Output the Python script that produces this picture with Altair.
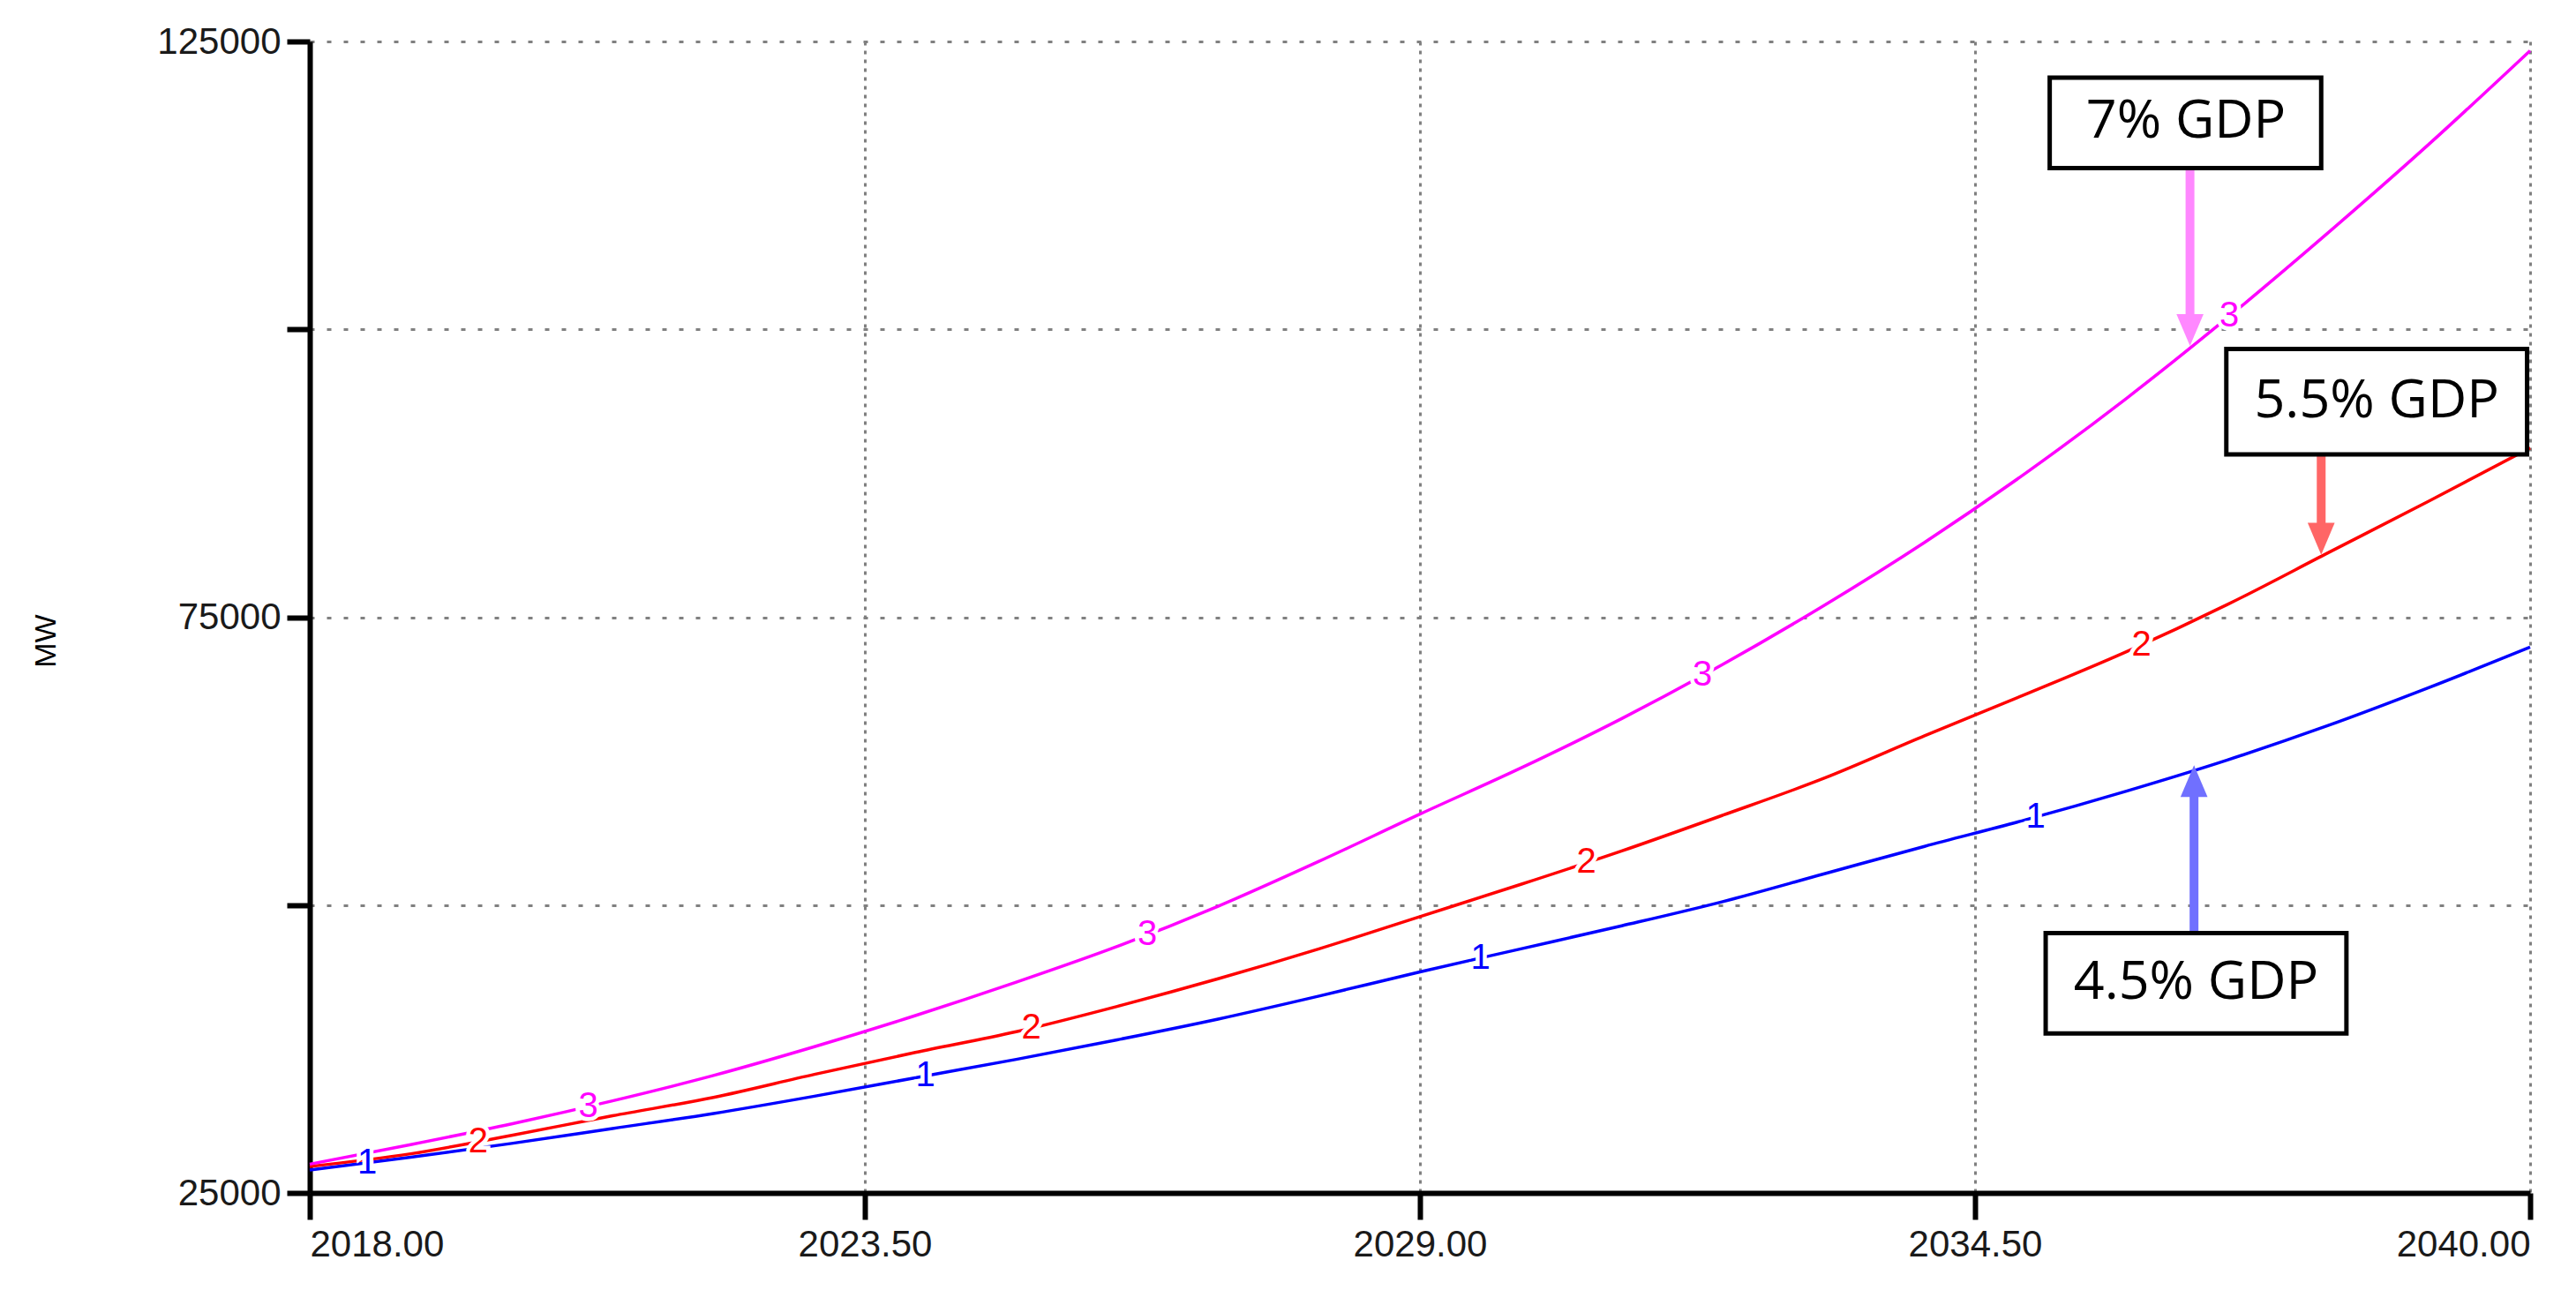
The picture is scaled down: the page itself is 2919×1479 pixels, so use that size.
import altair as alt
import pandas as pd

# ---- data ----
years = list(range(2018, 2041))
s1_45 = [27000, 28100, 29300, 30600, 31900, 33400, 35000, 36600, 38300, 40100, 42100, 44200,
         46200, 48200, 50300, 52700, 55100, 57400, 59900, 62600, 65600, 68900, 72400]
s2_55 = [27300, 28400, 30000, 31700, 33300, 35300, 37200, 39000, 41200, 43600, 46200, 49000,
         51800, 54700, 57800, 61000, 64700, 68300, 72000, 76100, 80600, 85100, 89700]
s3_70 = [27500, 29200, 31000, 33000, 35200, 37700, 40400, 43300, 46400, 49900, 53800, 57900,
         61900, 66200, 70900, 76000, 81500, 87500, 94000, 101000, 108400, 116100, 124200]

series_names = ["1", "2", "3"]
line_colors = ["#0000ff", "#ff0000", "#ff00ff"]
digit_colors = ["#6a6aff", "#ff5a40", "#ff66ff"]

# digit markers placed on the curves
digit_series = ["1", "1", "1", "1", "2", "2", "2", "2", "3", "3", "3", "3"]
digit_years = [2018.57, 2024.1, 2029.6, 2035.1, 2019.67, 2025.15, 2030.65, 2036.15,
               2020.76, 2026.3, 2031.8, 2037.02]
digit_values = [27600, 35200, 45400, 57650, 29450, 39300, 53700, 72600,
                32500, 47450, 69950, 101200]

# annotation boxes
box_text = ["7% GDP", "5.5% GDP", "4.5% GDP"]
box_x1 = [2035.24, 2036.99, 2035.20]
box_x2 = [2037.93, 2039.97, 2038.18]
box_y1 = [121860, 98290, 47570]
box_y2 = [114000, 89140, 38860]
box_tx = [2036.59, 2038.48, 2036.69]
box_ty = [118000, 93700, 43200]

# arrows
arrow_x = [2036.63, 2037.93, 2036.67]
arrow_from = [114000, 89140, 47570]
arrow_tip = [98570, 80430, 62140]
arrow_color = ["#ff88ff", "#ff6666", "#7070ff"]
arrow_dir = ["down", "down", "up"]

x_ticks = [2018, 2023.5, 2029, 2034.5, 2040]
y_ticks = [25000, 50000, 75000, 100000, 125000]

# ---- tables ----
rows = []
for name, vals in zip(series_names, [s1_45, s2_55, s3_70]):
    for yr, v in zip(years, vals):
        rows.append({"series": name, "year": yr, "value": v})
lines_df = pd.DataFrame(rows)

digits_df = pd.DataFrame({"series": digit_series, "year": digit_years, "value": digit_values})
boxes_df = pd.DataFrame({"text": box_text, "x1": box_x1, "x2": box_x2, "y1": box_y1,
                         "y2": box_y2, "tx": box_tx, "ty": box_ty})
arrows_df = pd.DataFrame({"x": arrow_x, "y0": arrow_from, "tip": arrow_tip,
                          "color": arrow_color, "dir": arrow_dir})

xscale = alt.Scale(domain=[2018, 2040], nice=False, zero=False)
yscale = alt.Scale(domain=[25000, 125000], nice=False, zero=False)

x_axis = alt.Axis(values=x_ticks, format=".2f", labelFlush=True, title=None,
                  tickSize=30, tickWidth=6, tickColor="black", domainWidth=6,
                  domainColor="black", labelFont="Liberation Sans", labelFontSize=42,
                  labelColor="#1a1a1a", labelPadding=8, grid=True, gridDash=[4, 6],
                  gridColor="#808080", gridWidth=3)
y_axis = alt.Axis(values=y_ticks, format="d", title="MW",
                  labelExpr="datum.value % 50000 == 25000 ? datum.label : ''",
                  tickSize=26, tickWidth=6, tickColor="black", domainWidth=6,
                  domainColor="black", labelFont="Liberation Sans", labelFontSize=42,
                  labelColor="#1a1a1a", labelPadding=7, grid=True, gridDash=[5, 14],
                  gridColor="#808080", gridWidth=3, titleFont="Liberation Sans",
                  titleFontSize=34, titleFontWeight="normal", titleColor="black",
                  titleAngle=270, titleX=-299, titleY=679, titleAlign="center",
                  titleBaseline="middle")

color_scale = alt.Scale(domain=series_names, range=line_colors)
digit_scale = alt.Scale(domain=series_names, range=digit_colors)

lines = alt.Chart(lines_df).mark_line(strokeWidth=3.5, interpolate="monotone").encode(
    x=alt.X("year:Q", scale=xscale, axis=x_axis),
    y=alt.Y("value:Q", scale=yscale, axis=y_axis),
    color=alt.Color("series:N", scale=color_scale, legend=None),
)

halo = alt.Chart(digits_df).mark_text(font="Liberation Sans", fontSize=40, stroke="white",
                                      strokeWidth=9, fill="white", baseline="middle").encode(
    x=alt.X("year:Q", scale=xscale), y=alt.Y("value:Q", scale=yscale), text="series:N")
digits = alt.Chart(digits_df).mark_text(font="Liberation Sans", fontSize=40,
                                        baseline="middle").encode(
    x=alt.X("year:Q", scale=xscale), y=alt.Y("value:Q", scale=yscale), text="series:N",
    color=alt.Color("series:N", scale=digit_scale, legend=None))

down = arrows_df[arrows_df["dir"] == "down"]
up = arrows_df[arrows_df["dir"] == "up"]

shaft_down = alt.Chart(down).mark_rule(strokeWidth=10, y2Offset=-30).encode(
    x=alt.X("x:Q", scale=xscale), y=alt.Y("y0:Q", scale=yscale), y2="tip:Q",
    color=alt.Color("color:N", scale=None))
head_down = alt.Chart(down).mark_point(shape="M-0.85,-1L0.85,-1L0,1Z", filled=True,
                                       opacity=1, size=1300, yOffset=-18).encode(
    x=alt.X("x:Q", scale=xscale), y=alt.Y("tip:Q", scale=yscale),
    color=alt.Color("color:N", scale=None))
shaft_up = alt.Chart(up).mark_rule(strokeWidth=10, y2Offset=30).encode(
    x=alt.X("x:Q", scale=xscale), y=alt.Y("y0:Q", scale=yscale), y2="tip:Q",
    color=alt.Color("color:N", scale=None))
head_up = alt.Chart(up).mark_point(shape="M-0.85,1L0.85,1L0,-1Z", filled=True,
                                   opacity=1, size=1300, yOffset=18).encode(
    x=alt.X("x:Q", scale=xscale), y=alt.Y("tip:Q", scale=yscale),
    color=alt.Color("color:N", scale=None))

boxes = alt.Chart(boxes_df).mark_rect(fill="white", stroke="black", strokeWidth=5).encode(
    x=alt.X("x1:Q", scale=xscale), x2="x2:Q",
    y=alt.Y("y1:Q", scale=yscale), y2="y2:Q")
box_labels = alt.Chart(boxes_df).mark_text(font="Open Sans", fontSize=61, color="black",
                                           baseline="middle", align="center").encode(
    x=alt.X("tx:Q", scale=xscale), y=alt.Y("ty:Q", scale=yscale), text="text:N")

chart = alt.layer(lines, halo, digits, shaft_down, head_down, shaft_up, head_up,
                  boxes, box_labels).properties(
    width=2516, height=1305,
    autosize=alt.AutoSizeParams(type="none"),
    padding={"left": 343, "top": 39, "right": 30, "bottom": 100},
    background="white",
).configure_view(stroke=None)

chart.save("out.html", embed_options={"renderer": "svg", "actions": False})
